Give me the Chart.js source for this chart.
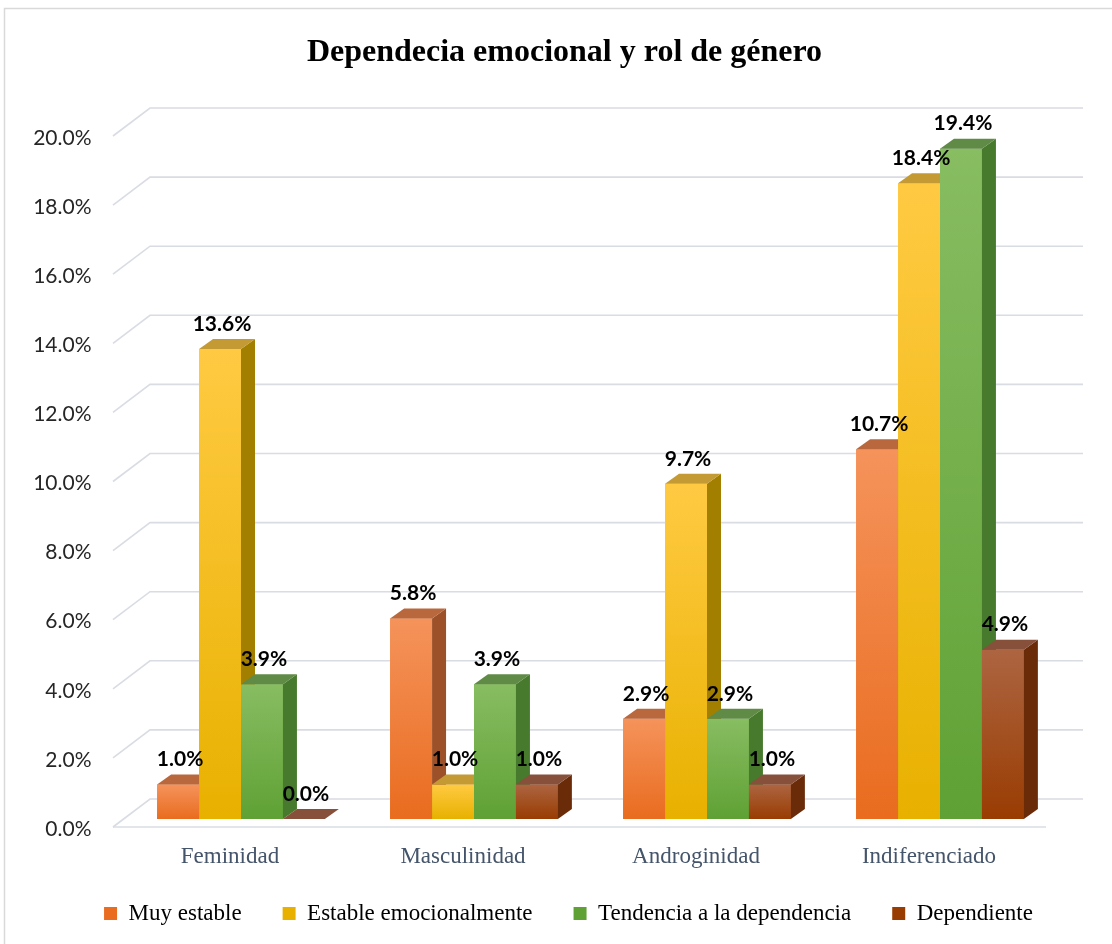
<!DOCTYPE html>
<html>
<head>
<meta charset="utf-8">
<script src="https://cdn.jsdelivr.net/npm/chart.js@4.4.1/dist/chart.umd.min.js"></script>
<style>
  body { margin: 0; background: #fff; }
</style>
</head>
<body>
<canvas id="barChart" width="1112" height="944"></canvas>
<script>
const categories = ['Feminidad', 'Masculinidad', 'Androginidad', 'Indiferenciado'];
const seriesNames = ['Muy estable', 'Estable emocionalmente', 'Tendencia a la dependencia', 'Dependiente'];
const muyEstable = [1.0, 5.8, 2.9, 10.7];
const estable = [13.6, 1.0, 9.7, 18.4];
const tendencia = [3.9, 3.9, 2.9, 19.4];
const dependiente = [0.0, 1.0, 1.0, 4.9];
const yTicks = [0, 2, 4, 6, 8, 10, 12, 14, 16, 18, 20];

// front gradient top/bottom, side face, top face
const palette = [
  { hi: '#f5935b', lo: '#e96c1f', side: '#9d5128', top: '#b9683d' },
  { hi: '#ffca42', lo: '#e8b100', side: '#a37f00', top: '#c49a34' },
  { hi: '#88bd62', lo: '#5fa134', side: '#477a2c', top: '#5f8b46' },
  { hi: '#ad6541', lo: '#993c02', side: '#6a2b08', top: '#87503a' }
];

const DX = 14, DY = 10;

function frontGradient(c, i) {
  const chart = c.chart;
  const p = palette[i];
  if (c.type !== 'data' || !chart.scales.y) return p.lo;
  const y = chart.scales.y;
  const top = y.getPixelForValue(c.raw);
  const base = y.getPixelForValue(0);
  if (base - top < 1) return p.lo;
  const g = chart.ctx.createLinearGradient(0, top, 0, base);
  g.addColorStop(0, p.hi);
  g.addColorStop(1, p.lo);
  return g;
}

const frame = {
  id: 'frame',
  afterLayout(chart) {
    // nudge title and legend to where the original puts them
    const t = chart.titleBlock, l = chart.legend;
    t.left += 24; t.right += 24;
    l.left += 28; l.right += 28;
    const h = l.bottom - l.top;
    l.top = 861; l.bottom = l.top + h;
  },
  beforeDraw(chart) {
    const ctx = chart.ctx;
    ctx.save();
    ctx.fillStyle = '#fff';
    ctx.fillRect(0, 0, chart.width, chart.height);
    ctx.strokeStyle = '#d9d9d9';
    ctx.lineWidth = 1.5;
    ctx.strokeRect(4.5, 8.5, chart.width + 20, chart.height + 20);
    ctx.restore();
  }
};

const walls = {
  id: 'walls',
  beforeDatasetsDraw(chart) {
    const { ctx, chartArea: a, scales: { y } } = chart;
    ctx.save();
    ctx.strokeStyle = '#d9dce3';
    ctx.lineWidth = 1.6;
    yTicks.forEach(v => {
      const py = y.getPixelForValue(v);
      ctx.beginPath();
      ctx.moveTo(a.left - 11.5, py + 8);
      ctx.lineTo(a.left + 25.5, py - 20);
      ctx.lineTo(a.right + 26.5, py - 20);
      ctx.stroke();
    });
    const p0 = y.getPixelForValue(0);
    ctx.beginPath();
    ctx.moveTo(a.left - 11.5, p0 + 8);
    ctx.lineTo(a.right - 10.5, p0 + 8);
    ctx.stroke();
    ctx.restore();
  }
};

const bars3d = {
  id: 'bars3d',
  afterDatasetsDraw(chart) {
    const ctx = chart.ctx;
    const metas = chart.data.datasets.map((d, i) => chart.getDatasetMeta(i));
    // draw dataset by dataset, left to right, so each front face hides the neighbour's side
    metas.forEach((meta, i) => {
      const p = palette[i];
      meta.data.forEach(el => {
        const l = el.x - el.width / 2, r = el.x + el.width / 2;
        const top = el.y, base = el.base;
        if (base - top > 0.5) el.draw(ctx);
        ctx.save();
        ctx.fillStyle = p.side;
        ctx.beginPath();
        ctx.moveTo(r, top);
        ctx.lineTo(r + DX, top - DY);
        ctx.lineTo(r + DX, base - DY);
        ctx.lineTo(r, base);
        ctx.closePath();
        ctx.fill();
        ctx.fillStyle = p.top;
        ctx.beginPath();
        ctx.moveTo(l, top);
        ctx.lineTo(l + DX, top - DY);
        ctx.lineTo(r + DX, top - DY);
        ctx.lineTo(r, top);
        ctx.closePath();
        ctx.fill();
        ctx.restore();
      });
    });
    // value labels
    ctx.save();
    ctx.font = 'bold 21px Lato';
    ctx.fillStyle = '#000';
    ctx.textAlign = 'center';
    ctx.textBaseline = 'middle';
    metas.forEach((meta, i) => {
      meta.data.forEach((el, j) => {
        const v = chart.data.datasets[i].data[j];
        ctx.fillText(v.toFixed(1) + '%', el.x + 2, el.y - 25);
      });
    });
    ctx.restore();
  }
};

const seriesData = [muyEstable, estable, tendencia, dependiente];

new Chart(document.getElementById('barChart'), {
  type: 'bar',
  data: {
    labels: categories,
    datasets: seriesData.map((d, i) => ({
      label: seriesNames[i],
      data: d,
      backgroundColor: c => frontGradient(c, i),
      borderWidth: 0,
      categoryPercentage: 0.72,
      barPercentage: 1
    }))
  },
  options: {
    responsive: false,
    animation: false,
    devicePixelRatio: 1,
    layout: { padding: { left: 24.5, right: 55.5, top: 0, bottom: -19 } },
    scales: {
      x: {
        grid: { display: false },
        border: { display: false },
        ticks: {
          color: '#44546a',
          font: { family: 'Liberation Serif', size: 23 },
          padding: 16,
          labelOffset: -11
        },
        afterFit: s => { s.height = 70; }
      },
      y: {
        min: 0,
        max: 20,
        grid: { display: false },
        border: { display: false },
        ticks: {
          stepSize: 2,
          color: '#262626',
          font: { family: 'Lato', size: 21 },
          padding: 25,
          labelOffset: 10,
          callback: v => v.toFixed(1) + '%'
        },
        afterFit: s => { s.width = 100; }
      }
    },
    plugins: {
      title: {
        display: true,
        text: 'Dependecia emocional y rol de género',
        color: '#000',
        font: { family: 'Liberation Serif', size: 32, weight: 'bold' },
        padding: { top: 34, bottom: 55.6 }
      },
      legend: {
        position: 'bottom',
        labels: {
          boxWidth: 13,
          boxHeight: 13,
          padding: 41,
          color: '#44546a',
          font: { family: 'Liberation Serif', size: 23 },
          generateLabels: chart => chart.data.datasets.map((d, i) => ({
            text: d.label,
            fillStyle: palette[i].lo,
            strokeStyle: palette[i].lo,
            lineWidth: 0,
            datasetIndex: i,
            hidden: false
          }))
        }
      },
      tooltip: { enabled: false }
    }
  },
  plugins: [frame, walls, bars3d]
});
</script>
</body>
</html>
